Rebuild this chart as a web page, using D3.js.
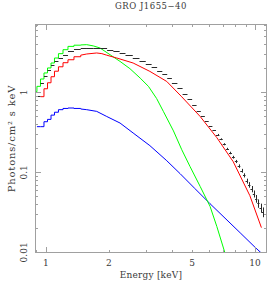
<!DOCTYPE html>
<html>
<head>
<meta charset="utf-8">
<script src="https://cdn.jsdelivr.net/npm/d3@7"></script>
<style>
  html, body { margin: 0; padding: 0; background: #fff; }
  svg { display: block; }
  text { font-family: "DejaVu Serif", serif; fill: #3a3a3a; }
</style>
</head>
<body>
<div id="chart"></div>
<script>
// 标题与坐标轴文字
const title = 'GRO J1655\u221240';
const xLabel = 'Energy [keV]';
const yLabel = 'Photons/cm\u00b2 s keV';
const xTickLabels = [1, 2, 5, 10];
const yTickLabels = [0.01, 0.1, 1];

// 低能端阶梯（共用的能道边界）
const stepEdges = [0.89, 0.905, 0.941, 0.978, 1.017, 1.057, 1.098, 1.147, 1.206, 1.274, 1.361, 1.466];
const greenStep = [1.02, 1.19, 1.47, 1.75, 2.02, 2.33, 2.69, 3.05, 3.42, 3.76, 3.89];
const redStep   = [null, null, 0.884, 1.11, 1.32, 1.57, 1.84, 2.09, 2.35, 2.56, 2.79];
const blueStep  = [null, 0.373, 0.373, 0.43, 0.46, 0.52, 0.565, 0.608, 0.63, 0.638, 0.63];

// 高能端模型曲线
const greenE = [1.466, 1.566, 1.684, 1.813, 2.024, 2.26, 2.52, 2.82, 3.09, 3.38, 3.64, 4.07, 4.46, 4.88, 5.46, 6.09, 6.56, 7.18, 7.4];
const greenF = [3.92, 3.95, 3.81, 3.59, 2.96, 2.44, 1.98, 1.51, 1.19, 0.84, 0.58, 0.33, 0.192, 0.119, 0.0668, 0.0376, 0.0211, 0.0098, 0.0075];
const redE = [1.466, 1.566, 1.748, 1.85, 1.95, 2.18, 2.61, 3.14, 3.78, 4.46, 5.46, 6.56, 7.86, 9.44, 10.72];
const redF = [2.92, 3.02, 3.11, 3.05, 2.92, 2.69, 2.33, 1.83, 1.37, 0.88, 0.50, 0.272, 0.136, 0.0512, 0.0204];
const blueE = [1.466, 1.566, 1.748, 1.952, 2.26, 2.61, 3.14, 3.78, 4.38, 5.16, 6.09, 7.18, 8.48, 9.99, 10.8];
const blueF = [0.62, 0.608, 0.579, 0.50, 0.414, 0.311, 0.216, 0.14, 0.0964, 0.0626, 0.0406, 0.0268, 0.0176, 0.0116, 0.00963];

// 观测数据（能道边界、流量、相对误差）
const dataEdges = [0.905, 0.941, 0.978, 1.017, 1.057, 1.098, 1.147, 1.206, 1.274, 1.361, 1.466,
  1.57, 1.69, 1.82, 1.96, 2.1, 2.25, 2.4, 2.6, 2.8, 3.0, 3.2, 3.4, 3.6, 3.8, 4.0,
  4.25, 4.5, 4.75, 5.0, 5.25, 5.5, 5.75, 6.0, 6.25, 6.5, 6.75, 7.0, 7.25, 7.5, 7.75,
  8.0, 8.25, 8.5, 8.75, 9.0, 9.25, 9.5, 9.75, 10.0, 10.25, 10.5, 10.75, 11.0];
const dataFlux = [0.9, 1.32, 1.62, 1.92, 2.22, 2.49, 2.71, 2.96, 3.25, 3.46,
  3.55, 3.6, 3.6, 3.55, 3.42, 3.25, 3.08, 2.9, 2.68, 2.47,
  2.26, 2.06, 1.87, 1.68, 1.5, 1.32, 1.12, 0.96, 0.82, 0.7,
  0.59, 0.5, 0.435, 0.38, 0.335, 0.295, 0.26, 0.225, 0.197, 0.175,
  0.155, 0.137, 0.12, 0.105, 0.092, 0.078, 0.07, 0.062, 0.054, 0.047,
  0.041, 0.036, 0.032];
const dataErr = [0.01, 0.01, 0.01, 0.01, 0.01, 0.01, 0.01, 0.01, 0.01, 0.01,
  0.01, 0.01, 0.01, 0.01, 0.01, 0.01, 0.01, 0.01, 0.01, 0.01,
  0.01, 0.01, 0.01, 0.01, 0.01, 0.01, 0.01, 0.01, 0.01, 0.01,
  0.015, 0.015, 0.02, 0.02, 0.02, 0.025, 0.025,
  0.03, 0.03, 0.035, 0.04, 0.045, 0.05, 0.055,
  0.06, 0.07, 0.08, 0.09, 0.1, 0.11, 0.12, 0.13, 0.14];

// 颜色配置
const colors = {
  frame: '#a0a0a0',
  data: '#2a2a2a',
  red: '#ff0000',
  green: '#00ff00',
  blue: '#0000ff'
};

const width = 269;
const height = 281;
const margin = { top: 24, right: 2, bottom: 28, left: 35 };
const plotW = width - margin.left - margin.right;
const plotH = height - margin.top - margin.bottom;

const svg = d3.select('#chart')
  .append('svg')
  .attr('width', width)
  .attr('height', height);

const x = d3.scaleLog().domain([0.886, 11.4]).range([margin.left, margin.left + plotW]);
const y = d3.scaleLog().domain([0.00983, 7.16]).range([margin.top + plotH, margin.top]);

svg.append('defs').append('clipPath')
  .attr('id', 'plot-clip')
  .append('rect')
  .attr('x', margin.left)
  .attr('y', margin.top)
  .attr('width', plotW)
  .attr('height', plotH);

const plot = svg.append('g').attr('clip-path', 'url(#plot-clip)');

// 把阶梯段与平滑段拼成一条折线
function buildPoints(stepVals, smoothE, smoothF) {
  const pts = [];
  stepVals.forEach((v, i) => {
    if (v == null) return;
    pts.push([stepEdges[i], v]);
    pts.push([stepEdges[i + 1], v]);
  });
  smoothE.forEach((e, i) => pts.push([e, smoothF[i]]));
  return pts;
}

const line = d3.line()
  .x(d => x(d[0]))
  .y(d => y(d[1]));

const models = [
  { pts: buildPoints(blueStep, blueE, blueF), color: colors.blue },
  { pts: buildPoints(greenStep, greenE, greenF), color: colors.green },
  { pts: buildPoints(redStep, redE, redF), color: colors.red }
];

models.forEach(m => {
  plot.append('path')
    .attr('d', line(m.pts))
    .attr('fill', 'none')
    .attr('stroke', m.color)
    .attr('stroke-width', 1);
});

// 数据：横向能道宽度 + 纵向误差棒
const bins = dataFlux.map((f, i) => ({
  lo: dataEdges[i],
  hi: dataEdges[i + 1],
  mid: Math.sqrt(dataEdges[i] * dataEdges[i + 1]),
  f: f,
  err: dataErr[i] * f
}));

const snap = v => Math.round(v) + 0.5;

const dataG = plot.append('g').attr('stroke', colors.data).attr('stroke-width', 1);
dataG.selectAll('line.h')
  .data(bins)
  .enter()
  .append('line')
  .attr('class', 'h')
  .attr('x1', d => x(d.lo))
  .attr('x2', d => x(d.hi))
  .attr('y1', d => snap(y(d.f)))
  .attr('y2', d => snap(y(d.f)));
dataG.selectAll('line.v')
  .data(bins.filter(d => y(d.f - d.err) - y(d.f + d.err) > 1.5))
  .enter()
  .append('line')
  .attr('class', 'v')
  .attr('x1', d => snap(x(d.mid)))
  .attr('x2', d => snap(x(d.mid)))
  .attr('y1', d => y(d.f - d.err))
  .attr('y2', d => y(d.f + d.err));

// 边框与刻度
const frame = svg.append('g').attr('stroke', colors.frame).attr('fill', 'none');
frame.append('rect')
  .attr('x', margin.left + 0.5)
  .attr('y', margin.top + 0.5)
  .attr('width', plotW - 1)
  .attr('height', plotH - 1);

const isDecade = v => Math.abs(Math.log10(v) - Math.round(Math.log10(v))) < 1e-6;
const majorLen = 6;
const minorLen = 3;

x.ticks().forEach(v => {
  const px = snap(x(v));
  const len = isDecade(v) ? majorLen : minorLen;
  frame.append('line').attr('x1', px).attr('x2', px)
    .attr('y1', margin.top + plotH).attr('y2', margin.top + plotH - len);
  frame.append('line').attr('x1', px).attr('x2', px)
    .attr('y1', margin.top).attr('y2', margin.top + len);
});

y.ticks().forEach(v => {
  const py = snap(y(v));
  const len = isDecade(v) ? majorLen : minorLen;
  frame.append('line').attr('y1', py).attr('y2', py)
    .attr('x1', margin.left).attr('x2', margin.left + len);
  frame.append('line').attr('y1', py).attr('y2', py)
    .attr('x1', margin.left + plotW).attr('x2', margin.left + plotW - len);
});

// 刻度标签
svg.append('g')
  .selectAll('text')
  .data(xTickLabels)
  .enter()
  .append('text')
  .attr('x', d => x(d))
  .attr('y', 266)
  .attr('text-anchor', 'middle')
  .attr('font-size', 9)
  .text(d => d);

svg.append('g')
  .selectAll('text')
  .data(yTickLabels)
  .enter()
  .append('text')
  .attr('transform', d => `translate(27,${y(d)}) rotate(-90)`)
  .attr('text-anchor', 'middle')
  .attr('font-size', 9)
  .text(d => d);

// 标题与轴标题
svg.append('text')
  .attr('x', margin.left + plotW / 2)
  .attr('y', 9)
  .attr('text-anchor', 'middle')
  .attr('font-size', 8.5)
  .attr('letter-spacing', 0.5)
  .text(title);

svg.append('text')
  .attr('x', margin.left + plotW / 2)
  .attr('y', 278)
  .attr('text-anchor', 'middle')
  .attr('font-size', 9)
  .attr('letter-spacing', 0.2)
  .text(xLabel);

svg.append('text')
  .attr('transform', `translate(15,${margin.top + plotH / 2}) rotate(-90)`)
  .attr('text-anchor', 'middle')
  .attr('font-size', 10)
  .attr('letter-spacing', 0.8)
  .text(yLabel);
</script>
</body>
</html>
